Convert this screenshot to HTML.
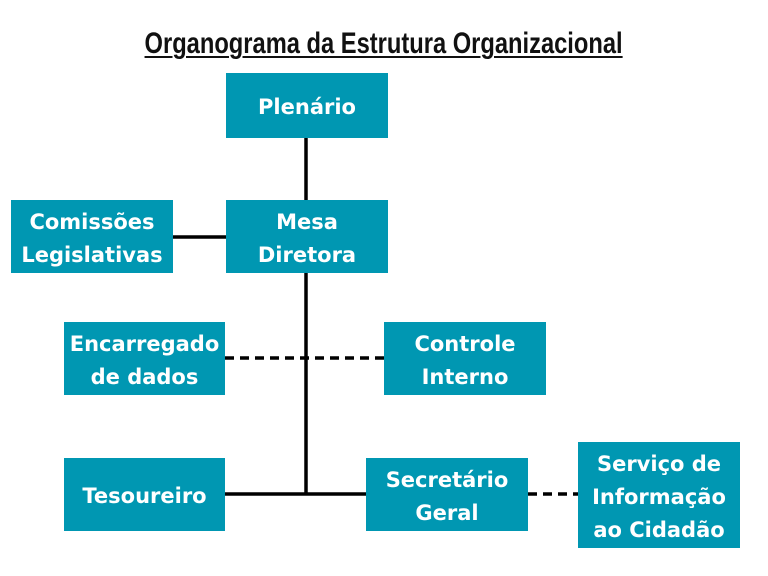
<!DOCTYPE html>
<html><head><meta charset="utf-8"><style>
body{margin:0;width:768px;height:576px;background:#fff;position:relative;overflow:hidden;font-family:"DejaVu Sans","Liberation Sans",sans-serif}
.b{position:absolute;box-sizing:border-box;padding-top:4px;background:#0097b2;color:#fff;font-weight:bold;font-size:21px;line-height:33px;display:flex;align-items:center;justify-content:center;text-align:center;letter-spacing:0}
.t{position:absolute;left:0;width:768px;top:27px;text-align:center;font-family:"Liberation Sans",sans-serif;font-weight:bold;font-size:30px;color:#111}
.t span{display:inline-block;transform:scaleX(0.79);text-decoration:underline;text-decoration-thickness:2px;text-underline-offset:3px}
</style></head><body>
<div class="t"><span>Organograma da Estrutura Organizacional</span></div>
<svg width="768" height="576" style="position:absolute;left:0;top:0">
<g stroke="#000" stroke-width="3.5" fill="none">
<line x1="306" y1="138" x2="306" y2="200"/>
<line x1="306" y1="273" x2="306" y2="494"/>
<line x1="173" y1="237" x2="226" y2="237"/>
<line x1="225" y1="494" x2="366" y2="494"/>
<line x1="225" y1="358" x2="384" y2="358" stroke-dasharray="9,6"/>
<line x1="528" y1="494" x2="578" y2="494" stroke-dasharray="9,6"/>
</g></svg>
<div class="b" style="left:226px;top:73px;width:162px;height:65px">Plenário</div>
<div class="b" style="left:11px;top:200px;width:162px;height:73px">Comissões<br>Legislativas</div>
<div class="b" style="left:226px;top:200px;width:162px;height:73px">Mesa<br>Diretora</div>
<div class="b" style="left:64px;top:322px;width:161px;height:73px">Encarregado<br>de dados</div>
<div class="b" style="left:384px;top:322px;width:162px;height:73px">Controle<br>Interno</div>
<div class="b" style="left:64px;top:458px;width:161px;height:73px">Tesoureiro</div>
<div class="b" style="left:366px;top:458px;width:162px;height:73px">Secretário<br>Geral</div>
<div class="b" style="left:578px;top:442px;width:162px;height:106px">Serviço de<br>Informação<br>ao Cidadão</div>
</body></html>
